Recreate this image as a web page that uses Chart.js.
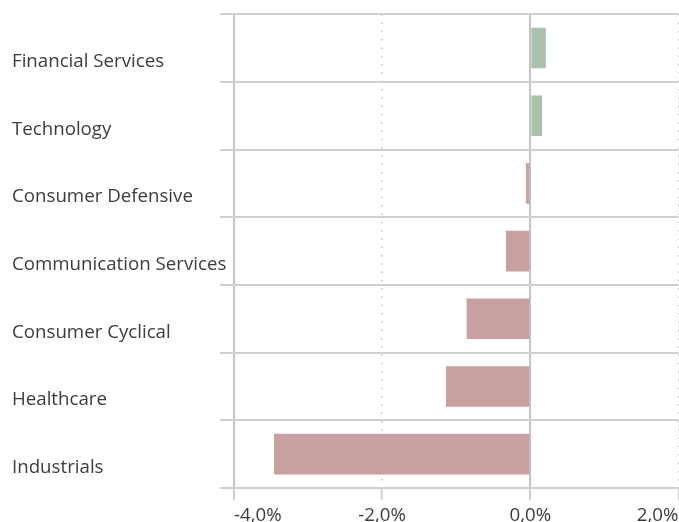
<!DOCTYPE html>
<html>
<head>
<meta charset="utf-8">
<script src="https://cdn.jsdelivr.net/npm/chart.js@4.4.1/dist/chart.umd.min.js"></script>
<style>
  html, body { margin: 0; padding: 0; background: #ffffff; }
  #wrap { width: 679px; height: 522px; }
</style>
</head>
<body>
<div id="wrap"><canvas id="c" width="679" height="522"></canvas></div>
<script>
const categories = ['Financial Services', 'Technology', 'Consumer Defensive', 'Communication Services', 'Consumer Cyclical', 'Healthcare', 'Industrials'];
const returns = [0.21, 0.16, -0.06, -0.33, -0.86, -1.14, -3.46];
const xTicks = [-4, -2, 0, 2];

const FONT = "'Open Sans', sans-serif";
const TEXT = '#3c3c3c';
const GRID = '#d0d0d0';

new Chart(document.getElementById('c'), {
  type: 'bar',
  data: {
    labels: categories,
    datasets: [{
      data: returns,
      backgroundColor: (ctx) => (ctx.raw >= 0 ? '#a9c1ad' : '#c9a0a0'),
      borderWidth: 0,
      barPercentage: 0.6,
      categoryPercentage: 1.0
    }]
  },
  options: {
    indexAxis: 'y',
    responsive: false,
    animation: false,
    layout: { padding: { left: 12, right: 0.5, top: 12, bottom: 0 } },
    plugins: { legend: { display: false }, tooltip: { enabled: false } },
    scales: {
      x: {
        min: xTicks[0],
        max: xTicks[xTicks.length - 1],
        afterBuildTicks: (scale) => { scale.ticks = xTicks.map(v => ({ value: v })); },
        afterFit: (scale) => { scale.height = 34; scale.paddingLeft = 0; scale.paddingRight = 0; },
        ticks: {
          align: 'inner',
          padding: 4,
          color: TEXT,
          font: { family: FONT, size: 18.7 },
          callback: (v) => v.toFixed(1).replace('.', ',') + '%'
        },
        grid: {
          color: (ctx) => (ctx.tick && (ctx.tick.value === 0 || ctx.tick.value === -4)) ? '#c4c4c4' : '#c0c0c0',
          lineWidth: (ctx) => (ctx.tick && (ctx.tick.value === 0 || ctx.tick.value === -4)) ? 2 : 1.5,
          tickLength: 12,
          tickWidth: 2,
          tickColor: GRID
        },
        border: {
          display: false,
          dash: (ctx) => (ctx.tick && (ctx.tick.value === 0 || ctx.tick.value === -4)) ? [] : [1.5, 6.8]
        }
      },
      y: {
        afterFit: (scale) => { scale.width = 222; },
        ticks: {
          crossAlign: 'far',
          labelOffset: 13.5,
          color: TEXT,
          font: { family: FONT, size: 18.7 }
        },
        grid: {
          color: GRID,
          lineWidth: 2,
          tickLength: 14,
          offset: true
        },
        border: { display: false }
      }
    }
  }
});
</script>
</body>
</html>
